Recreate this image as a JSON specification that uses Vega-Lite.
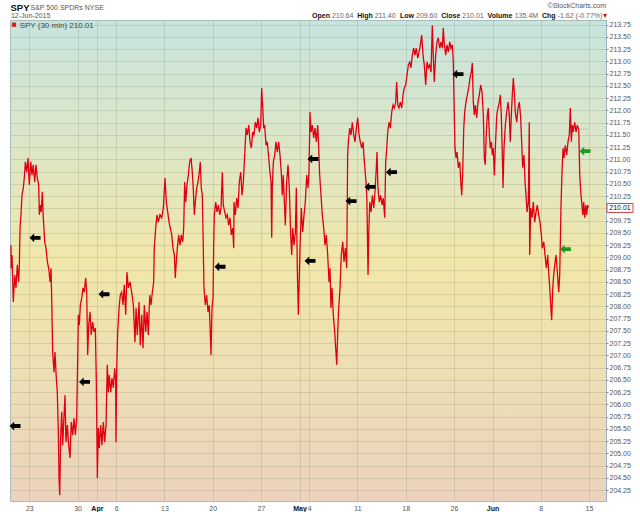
{
  "$schema": "https://vega.github.io/schema/vega-lite/v6.json",
  "width": 596,
  "height": 481,
  "autosize": "none",
  "padding": {"left": 10, "top": 20, "right": 34, "bottom": 11},
  "background": "#ffffff",
  "view": {
    "stroke": "#a9bdbd",
    "fill": {
      "gradient": "linear", "x1": 0, "y1": 0, "x2": 0, "y2": 1,
      "stops": [
        {"offset": 0, "color": "#c7e4de"},
        {"offset": 0.25, "color": "#dce6c8"},
        {"offset": 0.5, "color": "#f1e7aa"},
        {"offset": 0.72, "color": "#eedfb4"},
        {"offset": 1, "color": "#ecd2bd"}
      ]
    }
  },
  "layer": [
    {
      "data": {"values": [
        {"t":0.10,"p":209.25},{"t":0.13,"p":208.78},{"t":0.21,"p":209.05},{"t":0.34,"p":208.09},{"t":0.49,"p":208.64},{"t":0.62,"p":208.38},{"t":0.76,"p":208.85},{"t":0.90,"p":208.50},{"t":0.96,"p":208.78},{"t":1.04,"p":209.60},{"t":1.14,"p":209.87},{"t":1.24,"p":210.27},{"t":1.38,"p":210.42},{"t":1.48,"p":210.62},{"t":1.59,"p":210.95},{"t":1.73,"p":210.74},{"t":1.87,"p":211.03},{"t":2.00,"p":210.48},{"t":2.15,"p":210.95},{"t":2.28,"p":210.68},{"t":2.41,"p":210.89},{"t":2.56,"p":210.54},{"t":2.69,"p":210.89},{"t":2.83,"p":210.62},{"t":2.97,"p":210.48},{"t":3.04,"p":209.87},{"t":3.14,"p":210.07},{"t":3.24,"p":209.93},{"t":3.35,"p":210.34},{"t":3.45,"p":209.81},{"t":3.60,"p":209.32},{"t":3.73,"p":209.19},{"t":3.87,"p":208.91},{"t":4.01,"p":208.78},{"t":4.15,"p":208.50},{"t":4.25,"p":208.78},{"t":4.32,"p":208.17},{"t":4.42,"p":207.07},{"t":4.56,"p":206.66},{"t":4.66,"p":207.07},{"t":4.77,"p":206.64},{"t":4.90,"p":206.25},{"t":5.01,"p":205.44},{"t":5.08,"p":204.50},{"t":5.15,"p":204.15},{"t":5.25,"p":205.32},{"t":5.36,"p":205.85},{"t":5.46,"p":205.17},{"t":5.60,"p":205.78},{"t":5.70,"p":206.19},{"t":5.80,"p":205.23},{"t":5.94,"p":205.58},{"t":6.08,"p":205.17},{"t":6.22,"p":204.91},{"t":6.35,"p":205.64},{"t":6.50,"p":205.38},{"t":6.63,"p":205.72},{"t":6.77,"p":205.38},{"t":6.91,"p":205.72},
        {"t":7.02,"p":207.01},{"t":7.08,"p":207.83},{"t":7.18,"p":207.62},{"t":7.29,"p":208.03},{"t":7.43,"p":208.17},{"t":7.56,"p":208.38},{"t":7.70,"p":208.29},{"t":7.84,"p":208.58},{"t":7.95,"p":208.29},{"t":8.05,"p":207.01},{"t":8.16,"p":207.62},{"t":8.29,"p":207.89},{"t":8.42,"p":207.42},{"t":8.57,"p":207.68},{"t":8.70,"p":207.48},{"t":8.84,"p":207.56},{"t":8.94,"p":206.54},{"t":9.05,"p":204.50},{"t":9.15,"p":205.52},{"t":9.25,"p":205.11},{"t":9.40,"p":205.58},{"t":9.53,"p":205.17},{"t":9.67,"p":205.64},{"t":9.81,"p":205.23},{"t":9.95,"p":205.58},{"t":10.08,"p":206.81},{"t":10.19,"p":206.25},{"t":10.29,"p":206.60},{"t":10.44,"p":206.25},{"t":10.57,"p":206.54},{"t":10.71,"p":206.34},{"t":10.85,"p":206.74},{"t":10.95,"p":206.46},
        {"t":10.98,"p":205.23},{"t":11.06,"p":206.74},{"t":11.16,"p":207.48},{"t":11.30,"p":207.97},{"t":11.43,"p":208.23},{"t":11.57,"p":208.29},{"t":11.71,"p":208.03},{"t":11.84,"p":208.44},{"t":11.99,"p":207.83},{"t":12.12,"p":208.70},{"t":12.26,"p":208.38},{"t":12.44,"p":208.50},{"t":12.61,"p":208.29},{"t":12.78,"p":208.03},{"t":12.95,"p":207.27},{"t":13.06,"p":207.97},{"t":13.19,"p":207.42},{"t":13.37,"p":208.09},{"t":13.50,"p":207.21},{"t":13.65,"p":207.83},{"t":13.78,"p":207.15},{"t":13.92,"p":208.03},{"t":14.06,"p":207.48},{"t":14.20,"p":207.89},{"t":14.33,"p":207.42},{"t":14.48,"p":208.23},{"t":14.61,"p":208.03},{"t":14.75,"p":208.29},{"t":14.89,"p":208.50},{"t":14.95,"p":209.19},{"t":15.10,"p":209.60},{"t":15.23,"p":209.87},{"t":15.37,"p":209.72},{"t":15.54,"p":209.87},{"t":15.72,"p":209.81},{"t":15.89,"p":210.01},{"t":16.06,"p":210.62},{"t":16.20,"p":210.13},{"t":16.34,"p":209.93},{"t":16.48,"p":209.72},{"t":16.61,"p":209.60},{"t":16.76,"p":209.46},{"t":16.89,"p":209.19},{"t":17.03,"p":209.05},{"t":17.13,"p":208.58},{"t":17.23,"p":208.91},{"t":17.34,"p":209.19},{"t":17.48,"p":209.46},{"t":17.62,"p":209.25},{"t":17.75,"p":209.46},{"t":17.90,"p":209.32},{"t":18.00,"p":209.60},{"t":18.10,"p":210.54},{"t":18.21,"p":210.13},{"t":18.34,"p":210.48},{"t":18.48,"p":210.68},{"t":18.62,"p":210.95},{"t":18.76,"p":211.03},{"t":18.89,"p":210.74},{"t":18.99,"p":210.42},{"t":19.10,"p":209.87},{"t":19.20,"p":210.13},{"t":19.35,"p":210.42},{"t":19.48,"p":210.54},{"t":19.62,"p":210.74},{"t":19.72,"p":210.95},{"t":19.82,"p":210.42},{"t":19.93,"p":210.27},{"t":20.03,"p":209.19},{"t":20.10,"p":208.38},{"t":20.24,"p":208.03},{"t":20.38,"p":208.23},{"t":20.52,"p":207.89},{"t":20.65,"p":208.03},{"t":20.76,"p":207.42},{"t":20.83,"p":207.01},{"t":20.93,"p":207.97},{"t":21.04,"p":208.17},{"t":21.11,"p":209.32},{"t":21.17,"p":209.87},{"t":21.32,"p":210.13},{"t":21.45,"p":209.93},{"t":21.59,"p":210.07},{"t":21.73,"p":209.87},{"t":21.87,"p":210.01},{"t":22.00,"p":210.74},{"t":22.10,"p":210.07},{"t":22.25,"p":209.93},{"t":22.38,"p":209.81},{"t":22.52,"p":209.87},{"t":22.66,"p":209.66},{"t":22.80,"p":209.81},{"t":22.93,"p":209.46},{"t":23.08,"p":209.60},{"t":23.18,"p":209.19},
        {"t":23.21,"p":210.13},{"t":23.35,"p":209.87},{"t":23.49,"p":210.21},{"t":23.63,"p":210.01},{"t":23.76,"p":210.54},{"t":23.91,"p":210.74},{"t":24.04,"p":210.27},{"t":24.18,"p":210.54},{"t":24.32,"p":211.09},{"t":24.46,"p":211.64},{"t":24.59,"p":211.50},{"t":24.74,"p":211.70},{"t":24.87,"p":211.36},{"t":25.01,"p":211.23},{"t":25.15,"p":211.56},{"t":25.28,"p":211.50},{"t":25.42,"p":211.76},{"t":25.57,"p":211.64},{"t":25.70,"p":211.85},{"t":25.83,"p":211.56},{"t":25.98,"p":211.70},{"t":26.08,"p":212.46},{"t":26.19,"p":212.05},{"t":26.29,"p":211.64},{"t":26.39,"p":211.70},{"t":26.53,"p":211.29},{"t":26.66,"p":211.36},{"t":26.81,"p":211.03},{"t":26.94,"p":210.74},{"t":27.05,"p":210.54},{"t":27.12,"p":209.40},{"t":27.18,"p":210.42},{"t":27.29,"p":210.95},{"t":27.43,"p":211.09},{"t":27.56,"p":211.36},{"t":27.70,"p":211.15},{"t":27.84,"p":211.36},{"t":27.98,"p":211.09},{"t":28.11,"p":210.74},{"t":28.22,"p":210.27},{"t":28.32,"p":210.68},{"t":28.43,"p":210.13},{"t":28.53,"p":209.66},{"t":28.67,"p":210.54},{"t":28.81,"p":210.89},{"t":28.94,"p":210.42},{"t":29.09,"p":209.46},{"t":29.19,"p":209.05},{"t":29.30,"p":209.60},{"t":29.43,"p":209.25},{"t":29.57,"p":209.52},{"t":29.67,"p":210.42},{"t":29.77,"p":208.78},{"t":29.88,"p":207.83},{"t":29.95,"p":208.38},{"t":30.05,"p":209.19},{"t":30.19,"p":210.01},{"t":30.33,"p":209.52},{"t":30.47,"p":209.87},{"t":30.60,"p":210.13},{"t":30.75,"p":210.68},{"t":30.88,"p":210.42},{"t":30.98,"p":210.74},{"t":31.09,"p":211.97},{"t":31.19,"p":211.56},{"t":31.33,"p":211.70},{"t":31.47,"p":211.44},{"t":31.61,"p":211.64},{"t":31.74,"p":211.36},{"t":31.89,"p":211.70},{"t":31.99,"p":211.23},{"t":32.09,"p":210.68},{"t":32.23,"p":210.27},{"t":32.36,"p":209.87},{"t":32.51,"p":209.60},{"t":32.64,"p":209.25},{"t":32.78,"p":209.46},{"t":32.92,"p":209.05},{"t":33.06,"p":208.50},{"t":33.16,"p":208.78},{"t":33.26,"p":207.97},{"t":33.37,"p":208.38},{"t":33.50,"p":207.83},{"t":33.65,"p":207.48},{"t":33.75,"p":207.15},{"t":33.86,"p":206.81},{"t":33.96,"p":207.48},{"t":34.06,"p":207.97},{"t":34.20,"p":208.38},{"t":34.33,"p":209.05},{"t":34.48,"p":209.32},{"t":34.61,"p":208.91},{"t":34.75,"p":209.19},{"t":34.89,"p":208.78},
        {"t":34.99,"p":211.09},{"t":35.06,"p":211.36},{"t":35.20,"p":211.64},{"t":35.34,"p":211.50},{"t":35.47,"p":211.76},{"t":35.62,"p":211.50},{"t":35.75,"p":211.36},{"t":35.89,"p":211.64},{"t":36.03,"p":211.85},{"t":36.17,"p":211.50},{"t":36.30,"p":211.36},{"t":36.45,"p":211.23},{"t":36.58,"p":211.36},{"t":36.72,"p":210.95},{"t":36.86,"p":210.62},{"t":36.97,"p":210.27},{"t":37.03,"p":209.60},{"t":37.10,"p":208.64},{"t":37.17,"p":209.46},{"t":37.28,"p":210.13},{"t":37.41,"p":209.93},{"t":37.55,"p":210.27},{"t":37.69,"p":210.01},{"t":37.82,"p":210.34},{"t":37.96,"p":210.83},{"t":38.03,"p":211.15},{"t":38.13,"p":210.42},{"t":38.27,"p":210.13},{"t":38.41,"p":210.27},{"t":38.55,"p":210.07},{"t":38.68,"p":210.21},{"t":38.83,"p":209.81},{"t":38.93,"p":210.95},{"t":39.04,"p":211.23},{"t":39.14,"p":211.56},{"t":39.28,"p":211.76},{"t":39.41,"p":211.64},{"t":39.56,"p":211.97},{"t":39.69,"p":212.11},{"t":39.82,"p":212.05},{"t":39.97,"p":212.17},{"t":40.07,"p":212.58},{"t":40.18,"p":212.11},{"t":40.31,"p":212.05},{"t":40.45,"p":212.17},{"t":40.59,"p":212.05},{"t":40.73,"p":212.32},{"t":40.86,"p":212.46},{"t":41.00,"p":212.52},{"t":41.14,"p":212.72},{"t":41.28,"p":212.93},{"t":41.42,"p":212.99},{"t":41.55,"p":212.87},{"t":41.69,"p":213.13},{"t":41.83,"p":213.27},{"t":41.97,"p":213.13},{"t":42.10,"p":213.27},{"t":42.25,"p":213.07},{"t":42.38,"p":213.19},{"t":42.52,"p":213.34},{"t":42.66,"p":213.54},{"t":42.80,"p":213.13},{"t":42.93,"p":212.93},{"t":43.08,"p":212.52},{"t":43.21,"p":212.99},{"t":43.35,"p":212.87},{"t":43.49,"p":212.93},{"t":43.63,"p":212.78},{"t":43.76,"p":213.74},{"t":43.87,"p":213.07},{"t":43.97,"p":212.58},{"t":44.11,"p":213.13},{"t":44.25,"p":213.40},{"t":44.38,"p":213.48},{"t":44.53,"p":213.27},{"t":44.66,"p":213.40},{"t":44.80,"p":213.27},{"t":44.90,"p":213.68},{"t":45.01,"p":213.34},{"t":45.15,"p":213.13},{"t":45.28,"p":213.34},{"t":45.42,"p":213.19},{"t":45.57,"p":213.40},{"t":45.70,"p":213.27},{"t":45.83,"p":213.34},{"t":45.94,"p":212.99},
        {"t":46.04,"p":211.91},{"t":46.11,"p":211.23},{"t":46.22,"p":211.03},{"t":46.32,"p":211.15},{"t":46.46,"p":210.83},{"t":46.60,"p":210.95},{"t":46.71,"p":210.54},{"t":46.81,"p":210.27},{"t":46.91,"p":210.74},{"t":47.02,"p":211.64},{"t":47.12,"p":211.97},{"t":47.25,"p":212.17},{"t":47.39,"p":212.32},{"t":47.53,"p":212.46},{"t":47.67,"p":212.66},{"t":47.80,"p":212.78},{"t":47.91,"p":212.97},{"t":48.01,"p":212.17},{"t":48.11,"p":211.91},{"t":48.22,"p":212.11},{"t":48.36,"p":211.85},{"t":48.50,"p":212.17},{"t":48.63,"p":212.32},{"t":48.78,"p":212.52},{"t":48.91,"p":212.38},{"t":49.05,"p":211.91},{"t":49.15,"p":211.03},{"t":49.25,"p":210.89},{"t":49.36,"p":211.56},{"t":49.46,"p":211.91},{"t":49.56,"p":212.05},{"t":49.67,"p":211.50},{"t":49.77,"p":211.23},{"t":49.88,"p":211.36},{"t":49.98,"p":211.09},{"t":50.08,"p":211.23},{"t":50.19,"p":210.68},{"t":50.29,"p":211.23},{"t":50.44,"p":211.91},{"t":50.57,"p":212.05},{"t":50.71,"p":212.17},{"t":50.81,"p":212.32},{"t":50.91,"p":211.91},{"t":51.02,"p":211.09},{"t":51.09,"p":210.42},{"t":51.19,"p":211.23},{"t":51.33,"p":211.70},{"t":51.47,"p":211.97},{"t":51.61,"p":212.17},{"t":51.74,"p":211.91},{"t":51.84,"p":211.36},{"t":51.95,"p":211.91},{"t":52.05,"p":212.32},{"t":52.16,"p":212.66},{"t":52.26,"p":212.38},{"t":52.36,"p":211.97},{"t":52.51,"p":211.76},{"t":52.64,"p":212.05},{"t":52.78,"p":212.17},{"t":52.92,"p":211.85},{"t":53.02,"p":211.36},{"t":53.13,"p":210.83},{"t":53.26,"p":211.09},{"t":53.37,"p":210.54},{"t":53.47,"p":210.27},{"t":53.58,"p":209.93},{"t":53.71,"p":210.13},{"t":53.81,"p":211.76},{"t":53.85,"p":209.05},{"t":53.96,"p":210.01},{"t":54.09,"p":209.81},{"t":54.23,"p":210.13},{"t":54.37,"p":209.72},{"t":54.51,"p":209.93},{"t":54.64,"p":210.07},{"t":54.79,"p":209.87},{"t":54.92,"p":209.72},{"t":55.06,"p":209.46},{"t":55.16,"p":209.19},{"t":55.31,"p":209.32},{"t":55.44,"p":209.05},{"t":55.58,"p":208.78},{"t":55.72,"p":209.05},{"t":55.82,"p":208.70},{"t":55.93,"p":208.38},{"t":56.03,"p":208.03},{"t":56.13,"p":207.72},{"t":56.24,"p":208.38},{"t":56.34,"p":208.64},{"t":56.45,"p":208.85},{"t":56.58,"p":209.05},{"t":56.72,"p":208.70},{"t":56.86,"p":208.29},{"t":56.96,"p":208.64},{"t":57.03,"p":209.32},{"t":57.10,"p":210.07},{"t":57.20,"p":210.74},{"t":57.31,"p":211.23},{"t":57.41,"p":211.03},{"t":57.54,"p":211.29},{"t":57.69,"p":211.09},{"t":57.82,"p":211.36},{"t":57.96,"p":211.50},{"t":58.06,"p":212.05},{"t":58.17,"p":211.36},{"t":58.27,"p":211.70},{"t":58.37,"p":211.56},{"t":58.52,"p":211.76},{"t":58.65,"p":211.56},{"t":58.79,"p":211.70},{"t":58.94,"p":211.60},{"t":59.04,"p":210.68},{"t":59.14,"p":210.34},{"t":59.24,"p":210.13},{"t":59.35,"p":209.87},{"t":59.45,"p":210.13},{"t":59.55,"p":209.81},{"t":59.66,"p":210.07},{"t":59.76,"p":209.87},{"t":59.86,"p":210.07},{"t":59.93,"p":210.01}
      ]},
      "mark": {"type": "line", "color": "#e10010", "strokeWidth": 1.3},
      "encoding": {
        "x": {
          "field": "t",
          "type": "quantitative",
          "scale": {"domain": [0, 61.76], "nice": false, "zero": false},
          "axis": {
            "title": null,
            "tickCount": 100,
            "values": [2, 7, 9, 11, 16, 21, 26, 30, 31, 36, 41, 46, 50, 55, 60],
            "labelExpr": "['23','30','Apr','6','13','20','27','May','4','11','18','26','Jun','8','15'][indexof([2,7,9,11,16,21,26,30,31,36,41,46,50,55,60], datum.value)]",
            "labelFontWeight": {"condition": {"test": "datum.value == 9 || datum.value == 30 || datum.value == 50", "value": "bold"}, "value": "normal"},
            "labelColor": {"condition": {"test": "datum.value == 9 || datum.value == 30 || datum.value == 50", "value": "#111111"}, "value": "#555555"}
          }
        },
        "y": {
          "field": "p",
          "type": "quantitative",
          "scale": {"domain": [204.03, 213.846], "nice": false, "zero": false},
          "axis": {
            "title": null,
            "orient": "right",
            "tickCount": 100,
            "values": [204.25, 204.5, 204.75, 205, 205.25, 205.5, 205.75, 206, 206.25, 206.5, 206.75, 207, 207.25, 207.5, 207.75, 208, 208.25, 208.5, 208.75, 209, 209.25, 209.5, 209.75, 210, 210.25, 210.5, 210.75, 211, 211.25, 211.5, 211.75, 212, 212.25, 212.5, 212.75, 213, 213.25, 213.5, 213.75],
            "format": ".2f"
          }
        }
      }
    },
    {
      "data": {"values": [{"level": 211.62, "from": 58.95, "to": 59.95}]},
      "mark": {"type": "rule", "color": "#8f9ff0", "strokeDash": [1, 1], "strokeWidth": 1},
      "encoding": {
        "x": {"field": "from", "type": "quantitative"},
        "x2": {"field": "to"},
        "y": {"field": "level", "type": "quantitative"}
      }
    },
    {
      "data": {"values": [
        {"t": 0.52, "p": 205.56, "kind": "note"},
        {"t": 2.59, "p": 209.40, "kind": "note"},
        {"t": 7.72, "p": 206.46, "kind": "note"},
        {"t": 9.74, "p": 208.25, "kind": "note"},
        {"t": 21.76, "p": 208.81, "kind": "note"},
        {"t": 31.09, "p": 208.93, "kind": "note"},
        {"t": 31.40, "p": 211.01, "kind": "note"},
        {"t": 35.34, "p": 210.15, "kind": "note"},
        {"t": 37.31, "p": 210.44, "kind": "note"},
        {"t": 39.53, "p": 210.74, "kind": "note"},
        {"t": 46.42, "p": 212.74, "kind": "note"},
        {"t": 57.56, "p": 209.17, "kind": "buy"},
        {"t": 59.59, "p": 211.17, "kind": "buy"}
      ]},
      "mark": {
        "type": "point",
        "filled": true,
        "opacity": 1,
        "size": 121,
        "shape": "M -1 0 L -0.15 -0.8 L -0.15 -0.35 L 1 -0.35 L 1 0.35 L -0.15 0.35 L -0.15 0.8 Z"
      },
      "encoding": {
        "x": {"field": "t", "type": "quantitative"},
        "y": {"field": "p", "type": "quantitative"},
        "color": {
          "field": "kind",
          "type": "nominal",
          "scale": {"domain": ["note", "buy"], "range": ["#000000", "#1f9a1f"]},
          "legend": null
        }
      }
    },
    {
      "data": {"values": [{"last": 210.01}]},
      "mark": {
        "type": "point",
        "filled": true,
        "opacity": 1,
        "fill": "#ffffff",
        "stroke": "#d04848",
        "strokeWidth": 1,
        "size": 400,
        "shape": "M -1.3 -0.45 L 1.3 -0.45 L 1.3 0.45 L -1.3 0.45 Z"
      },
      "encoding": {
        "x": {"datum": 63.21, "type": "quantitative"},
        "y": {"field": "last", "type": "quantitative"}
      }
    },
    {
      "data": {"values": [{"last": 210.01}]},
      "mark": {"type": "text", "fontSize": 7, "color": "#111111", "align": "center", "baseline": "middle"},
      "encoding": {
        "x": {"datum": 63.21, "type": "quantitative"},
        "y": {"field": "last", "type": "quantitative"},
        "text": {"field": "last", "type": "quantitative", "format": ".2f"}
      }
    },
    {
      "data": {"values": [{}]},
      "mark": {"type": "point", "shape": "square", "filled": true, "opacity": 1, "color": "#d42020", "size": 18},
      "encoding": {
        "x": {"datum": 0.41, "type": "quantitative"},
        "y": {"datum": 213.75, "type": "quantitative"}
      }
    },
    {
      "data": {"values": [{}]},
      "mark": {"type": "text", "text": "SPY (30 min) 210.01", "fontSize": 8, "color": "#444444", "align": "left", "baseline": "alphabetic"},
      "encoding": {
        "x": {"datum": 1.0, "type": "quantitative"},
        "y": {"datum": 213.69, "type": "quantitative"}
      }
    },
    {
      "data": {"values": [{}]},
      "mark": {"type": "text", "text": "SPY", "fontSize": 9.5, "fontWeight": "bold", "color": "#111111", "align": "left", "baseline": "alphabetic"},
      "encoding": {
        "x": {"datum": 0.05, "type": "quantitative"},
        "y": {"datum": 214.03, "type": "quantitative"}
      }
    },
    {
      "data": {"values": [{}]},
      "mark": {"type": "text", "text": "S&P 500 SPDRs  NYSE", "fontSize": 7, "color": "#555555", "align": "left", "baseline": "alphabetic"},
      "encoding": {
        "x": {"datum": 2.12, "type": "quantitative"},
        "y": {"datum": 214.04, "type": "quantitative"}
      }
    },
    {
      "data": {"values": [{}]},
      "mark": {"type": "text", "text": "12-Jun-2015", "fontSize": 7, "color": "#555555", "align": "left", "baseline": "alphabetic"},
      "encoding": {
        "x": {"datum": 0.1, "type": "quantitative"},
        "y": {"datum": 213.89, "type": "quantitative"}
      }
    },
    {
      "data": {"values": [{}]},
      "mark": {"type": "text", "text": "©StockCharts.com", "fontSize": 7, "color": "#555555", "align": "right", "baseline": "alphabetic"},
      "encoding": {
        "x": {"datum": 61.76, "type": "quantitative"},
        "y": {"datum": 214.09, "type": "quantitative"}
      }
    },
    {
      "data": {"values": [{}]},
      "mark": {"type": "text", "text": "Open", "fontSize": 7, "fontWeight": "bold", "color": "#111111", "align": "left", "baseline": "alphabetic"},
      "encoding": {"x": {"datum": 31.30, "type": "quantitative"}, "y": {"datum": 213.89, "type": "quantitative"}}
    },
    {
      "data": {"values": [{}]},
      "mark": {"type": "text", "text": "210.64", "fontSize": 7, "color": "#666666", "align": "left", "baseline": "alphabetic"},
      "encoding": {"x": {"datum": 33.36, "type": "quantitative"}, "y": {"datum": 213.89, "type": "quantitative"}}
    },
    {
      "data": {"values": [{}]},
      "mark": {"type": "text", "text": "High", "fontSize": 7, "fontWeight": "bold", "color": "#111111", "align": "left", "baseline": "alphabetic"},
      "encoding": {"x": {"datum": 35.98, "type": "quantitative"}, "y": {"datum": 213.89, "type": "quantitative"}}
    },
    {
      "data": {"values": [{}]},
      "mark": {"type": "text", "text": "211.40", "fontSize": 7, "color": "#666666", "align": "left", "baseline": "alphabetic"},
      "encoding": {"x": {"datum": 37.79, "type": "quantitative"}, "y": {"datum": 213.89, "type": "quantitative"}}
    },
    {
      "data": {"values": [{}]},
      "mark": {"type": "text", "text": "Low", "fontSize": 7, "fontWeight": "bold", "color": "#111111", "align": "left", "baseline": "alphabetic"},
      "encoding": {"x": {"datum": 40.41, "type": "quantitative"}, "y": {"datum": 213.89, "type": "quantitative"}}
    },
    {
      "data": {"values": [{}]},
      "mark": {"type": "text", "text": "209.60", "fontSize": 7, "color": "#666666", "align": "left", "baseline": "alphabetic"},
      "encoding": {"x": {"datum": 42.07, "type": "quantitative"}, "y": {"datum": 213.89, "type": "quantitative"}}
    },
    {
      "data": {"values": [{}]},
      "mark": {"type": "text", "text": "Close", "fontSize": 7, "fontWeight": "bold", "color": "#111111", "align": "left", "baseline": "alphabetic"},
      "encoding": {"x": {"datum": 44.69, "type": "quantitative"}, "y": {"datum": 213.89, "type": "quantitative"}}
    },
    {
      "data": {"values": [{}]},
      "mark": {"type": "text", "text": "210.01", "fontSize": 7, "color": "#666666", "align": "left", "baseline": "alphabetic"},
      "encoding": {"x": {"datum": 46.87, "type": "quantitative"}, "y": {"datum": 213.89, "type": "quantitative"}}
    },
    {
      "data": {"values": [{}]},
      "mark": {"type": "text", "text": "Volume", "fontSize": 7, "fontWeight": "bold", "color": "#111111", "align": "left", "baseline": "alphabetic"},
      "encoding": {"x": {"datum": 49.49, "type": "quantitative"}, "y": {"datum": 213.89, "type": "quantitative"}}
    },
    {
      "data": {"values": [{}]},
      "mark": {"type": "text", "text": "135.4M", "fontSize": 7, "color": "#666666", "align": "left", "baseline": "alphabetic"},
      "encoding": {"x": {"datum": 52.31, "type": "quantitative"}, "y": {"datum": 213.89, "type": "quantitative"}}
    },
    {
      "data": {"values": [{}]},
      "mark": {"type": "text", "text": "Chg", "fontSize": 7, "fontWeight": "bold", "color": "#111111", "align": "left", "baseline": "alphabetic"},
      "encoding": {"x": {"datum": 55.13, "type": "quantitative"}, "y": {"datum": 213.89, "type": "quantitative"}}
    },
    {
      "data": {"values": [{}]},
      "mark": {"type": "text", "text": "-1.62 (-0.77%)", "fontSize": 7, "color": "#666666", "align": "left", "baseline": "alphabetic"},
      "encoding": {"x": {"datum": 56.75, "type": "quantitative"}, "y": {"datum": 213.89, "type": "quantitative"}}
    },
    {
      "data": {"values": [{}]},
      "mark": {"type": "text", "text": "▾", "fontSize": 8, "color": "#cc1111", "align": "left", "baseline": "alphabetic"},
      "encoding": {"x": {"datum": 61.45, "type": "quantitative"}, "y": {"datum": 213.89, "type": "quantitative"}}
    }
  ],
  "config": {
    "font": "Liberation Sans",
    "axis": {
      "title": null,
      "labelOverlap": false,
      "labelFlush": false,
      "labelFontSize": 7,
      "labelColor": "#555555",
      "grid": true,
      "gridColor": "#6f7a60",
      "gridOpacity": 0.2
    },
    "axisX": {
      "labelPadding": 3,
      "domain": false,
      "ticks": false
    },
    "axisY": {
      "labelPadding": 1,
      "tickSize": 2,
      "tickColor": "#888888",
      "domainColor": "#8aa6c8",
      "domainDash": [1, 1]
    }
  }
}
